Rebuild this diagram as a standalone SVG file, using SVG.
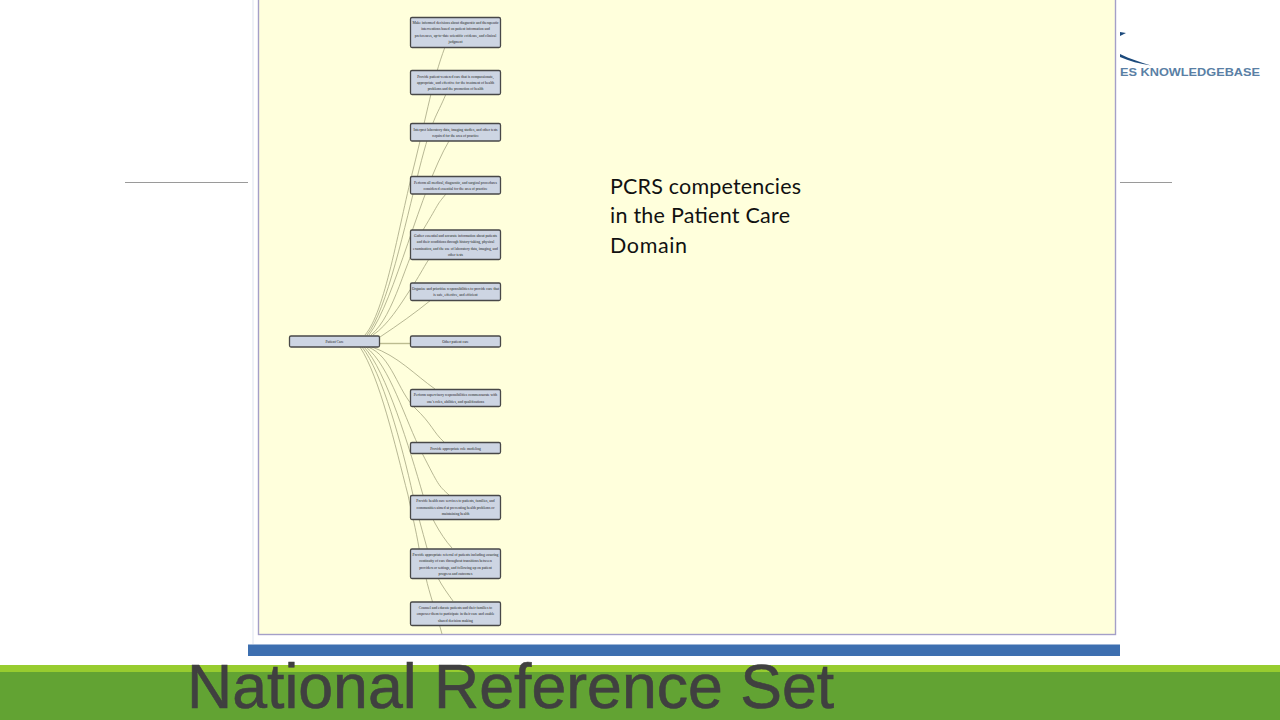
<svg xmlns="http://www.w3.org/2000/svg" width="1280" height="720" viewBox="0 0 1280 720">
<style>
.n{fill:#cdd5e3;stroke:#484848;stroke-width:1.300}
.t{font-family:"Liberation Serif",serif;font-size:3.700px;fill:#222;text-anchor:middle}
.e{fill:none;stroke:#a5a582;stroke-width:.8}
.rule{stroke:#9a9a9a;stroke-width:1}
</style>
<defs><clipPath id="fc"><rect x="259" y="0" width="856" height="634"/></clipPath></defs>
<rect width="1280" height="720" fill="#fff"/>
<g id="rules"><line class="rule" x1="125" y1="182.500" x2="248" y2="182.500"/><line class="rule" x1="1120" y1="182.500" x2="1172" y2="182.500"/></g>
<g id="logo">
<path d="M1120 32L1126 33L1120 36Z" fill="#1c4a7c"/>
<path d="M1120 54C1130 59 1140 62 1151 65.500C1140 64 1129 61 1120 57Z" fill="#1c4a7c"/>
<text x="1120" y="76" font-family="Liberation Sans,sans-serif" font-size="11" font-weight="bold" fill="#5a7fa5" textLength="140" lengthAdjust="spacingAndGlyphs">ES KNOWLEDGEBASE</text>
</g>
<g id="frame">
<line x1="253" y1="0" x2="253" y2="644" stroke="#dde3ee" stroke-width="1"/>
<rect x="258.500" y="-5" width="857" height="639.500" fill="#ffffdc" stroke="#a49fc8" stroke-width="1.400"/>
</g>
<g id="connectors" clip-path="url(#fc)">
<path class="e" d="M365 335C385 312 398 230 413 170S432 82 445 47"/>
<path class="e" d="M367 335C387 310 405 225 419 170S436 118 446 94"/>
<path class="e" d="M369 335C395 300 420 190 449 141"/>
<path class="e" d="M371 335C395 315 405 260 423 230S436 206 446 194"/>
<path class="e" d="M373 335C388 325 400 305 410 290S422 270 429 259"/>
<path class="e" d="M380 337C398 325 415 313 431 300"/>
<line x1="380" y1="343.500" x2="410" y2="343.500" stroke="#bcbc90" stroke-width="1.400"/>
<path class="e" d="M372 347C398 356 415 375 435 389"/>
<path class="e" d="M368 347C392 356 398 392 415 408S433 432 444 442"/>
<path class="e" d="M366 347C390 366 405 420 422 453S438 485 449 495"/>
<path class="e" d="M364 347C386 370 410 450 423 495C428 512 440 535 452 548"/>
<path class="e" d="M362 347C382 372 402 445 413 495C417 512 422 530 427 548C430 560 434 570 438 578S448 594 453 601"/>
<path class="e" d="M360 347C380 378 395 445 408 495C411 510 416 530 419 548C421 560 424 570 426 578C429 592 436 612 442 634"/>
</g>
<g id="n0"><rect class="n" x="289.500" y="336" width="90" height="11" rx="1.500"/><text class="t" x="334.500" y="343">Patient Care</text></g>
<g id="n1"><rect class="n" x="410.500" y="17.500" width="90" height="30" rx="1.500"/><text class="t"><tspan x="455.500" y="23.500">Make informed decisions about diagnostic and therapeutic</tspan><tspan x="455.500" y="30">interventions based on patient information and</tspan><tspan x="455.500" y="36.500">preferences, up-to-date scientific evidence, and clinical</tspan><tspan x="455.500" y="43">judgment</tspan></text></g>
<g id="n2"><rect class="n" x="410.500" y="70.500" width="90" height="24" rx="1.500"/><text class="t"><tspan x="455.500" y="77.500">Provide patient-centered care that is compassionate,</tspan><tspan x="455.500" y="84">appropriate, and effective for the treatment of health</tspan><tspan x="455.500" y="90">problems and the promotion of health</tspan></text></g>
<g id="n3"><rect class="n" x="410.500" y="123.500" width="90" height="17.500" rx="1.500"/><text class="t"><tspan x="455.500" y="130.500">Interpret laboratory data, imaging studies, and other tests</tspan><tspan x="455.500" y="137">required for the area of practice</tspan></text></g>
<g id="n4"><rect class="n" x="410.500" y="176.500" width="90" height="17.500" rx="1.500"/><text class="t"><tspan x="455.500" y="183.500">Perform all medical, diagnostic, and surgical procedures</tspan><tspan x="455.500" y="190">considered essential for the area of practice</tspan></text></g>
<g id="n5"><rect class="n" x="410.500" y="230" width="90" height="29.500" rx="1.500"/><text class="t"><tspan x="455.500" y="236.500">Gather essential and accurate information about patients</tspan><tspan x="455.500" y="243">and their conditions through history-taking, physical</tspan><tspan x="455.500" y="249.500">examination, and the use of laboratory data, imaging, and</tspan><tspan x="455.500" y="256">other tests</tspan></text></g>
<g id="n6"><rect class="n" x="410.500" y="283" width="90" height="17.500" rx="1.500"/><text class="t"><tspan x="455.500" y="289.500">Organize and prioritize responsibilities to provide care that</tspan><tspan x="455.500" y="296">is safe, effective, and efficient</tspan></text></g>
<g id="n7"><rect class="n" x="410.500" y="336" width="90" height="11" rx="1.500"/><text class="t" x="455.500" y="343">Other patient care</text></g>
<g id="n8"><rect class="n" x="410.500" y="389.500" width="90" height="17" rx="1.500"/><text class="t"><tspan x="455.500" y="396">Perform supervisory responsibilities commensurate with</tspan><tspan x="455.500" y="402.500">one's roles, abilities, and qualifications</tspan></text></g>
<g id="n9"><rect class="n" x="410.500" y="442.500" width="90" height="11" rx="1.500"/><text class="t" x="455.500" y="449.500">Provide appropriate role modeling</text></g>
<g id="n10"><rect class="n" x="410.500" y="495.500" width="90" height="24" rx="1.500"/><text class="t"><tspan x="455.500" y="502">Provide health care services to patients, families, and</tspan><tspan x="455.500" y="508.500">communities aimed at preventing health problems or</tspan><tspan x="455.500" y="515">maintaining health</tspan></text></g>
<g id="n11"><rect class="n" x="410.500" y="549" width="90" height="29.500" rx="1.500"/><text class="t"><tspan x="455.500" y="555.500">Provide appropriate referral of patients including ensuring</tspan><tspan x="455.500" y="562">continuity of care throughout transitions between</tspan><tspan x="455.500" y="568.500">providers or settings, and following up on patient</tspan><tspan x="455.500" y="575">progress and outcomes</tspan></text></g>
<g id="n12"><rect class="n" x="410.500" y="602" width="90" height="23.500" rx="1.500"/><text class="t"><tspan x="455.500" y="608.500">Counsel and educate patients and their families to</tspan><tspan x="455.500" y="615">empower them to participate in their care and enable</tspan><tspan x="455.500" y="621.500">shared decision making</tspan></text></g>
<g id="note" font-family="Lato,sans-serif" font-size="21.500" fill="#111"><text x="610" y="193.500" textLength="191">PCRS competencies</text><text x="610" y="223" textLength="180">in the Patient Care</text><text x="610" y="252.500" textLength="77">Domain</text></g>
<rect id="bar" x="248" y="644.500" width="872" height="11.500" fill="#3d6fb0"/>
<g id="footer"><rect y="665" width="1280" height="7" fill="#97cc2f"/><rect y="672" width="1280" height="48" fill="#62a333"/></g>
<text id="title" x="187" y="708" font-family="Liberation Sans,sans-serif" font-size="62.600" fill="#404040" stroke="#404040" stroke-width=".6">National Reference Set</text>
</svg>
